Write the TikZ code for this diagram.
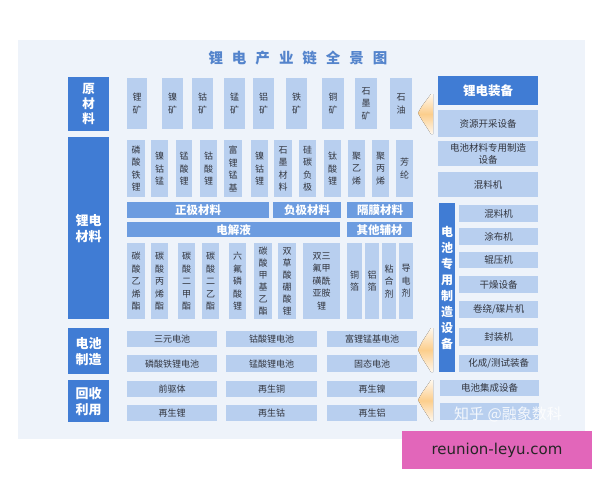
\documentclass[tikz,border=0pt]{standalone}
\usepackage{fontspec}
\setmainfont{Noto Sans CJK SC}
\newfontfamily\latinfont{DejaVu Sans}
\definecolor{panelbg}{RGB}{238,243,250}
\definecolor{darkblue}{RGB}{64,124,212}
\definecolor{bandblue}{RGB}{108,156,224}
\definecolor{lightbox}{RGB}{184,207,239}
\definecolor{txtc}{RGB}{50,53,62}
\definecolor{titlec}{RGB}{84,132,204}
\definecolor{arrowc}{RGB}{252,206,140}
\definecolor{pinkc}{RGB}{226,102,186}
\newcommand\bx[7]{\node[#1, anchor=north west, minimum width={#5-#3}, minimum height={#6-#4}] (#2) at (#3,#4) {#7};}
\begin{document}
\begin{tikzpicture}[x=1pt,y=-1pt,
  lb/.style={fill=lightbox, inner sep=0pt, align=center, text=txtc, font=\fontsize{9}{12.5}\selectfont},
  lbh/.style={lb, font=\fontsize{9}{11}\selectfont},
  cat/.style={fill=darkblue, inner sep=0pt, align=center, text=white, font=\bfseries\fontsize{13}{16}\selectfont},
  band/.style={fill=bandblue, inner sep=0pt, text=white, font=\bfseries\fontsize{11.5}{12}\selectfont},
  deco/.style={top color=arrowc!15!white, bottom color=arrowc!15!white, middle color=arrowc}]
\useasboundingbox (0,0) rectangle (600,480);
\fill[white] (0,0) rectangle (600,480);
\fill[panelbg] (18,40) rectangle (585,439);
% title
\node[text=titlec, font=\bfseries\fontsize{14.5}{14.5}\selectfont] (title) at (298,58)
  {锂\hspace{9pt}电\hspace{9pt}产\hspace{9pt}业\hspace{9pt}链\hspace{9pt}全\hspace{9pt}景\hspace{9pt}图};
% categories
\bx{cat, font=\bfseries\fontsize{12.5}{15}\selectfont}{c1}{68}{77}{109}{131}{原\\材\\料}
\bx{cat}{c2}{68}{137}{109}{319}{锂电\\材料}
\bx{cat}{c3}{68}{328}{109}{374}{电池\\制造}
\bx{cat}{c4}{68}{380}{109}{422}{回收\\利用}
% raw materials
\bx{lb}{r1}{127}{78}{147}{129}{锂\\矿}
\bx{lb}{r2}{162}{78}{183}{129}{镍\\矿}
\bx{lb}{r3}{192}{78}{213}{129}{钴\\矿}
\bx{lb}{r4}{224}{78}{245}{129}{锰\\矿}
\bx{lb}{r5}{253}{78}{274}{129}{铝\\矿}
\bx{lb}{r6}{286}{78}{307}{129}{铁\\矿}
\bx{lb}{r7}{322}{78}{344}{129}{铜\\矿}
\bx{lb}{r8}{355}{78}{377}{129}{石\\墨\\矿}
\bx{lb}{r9}{390}{78}{412}{129}{石\\油}
% materials row 1
\bx{lb}{m1}{127}{140}{145}{197}{磷\\酸\\铁\\锂}
\bx{lb}{m2}{151}{140}{168}{197}{镍\\钴\\锰}
\bx{lb}{m3}{176}{140}{192}{197}{锰\\酸\\锂}
\bx{lb}{m4}{200}{140}{217}{197}{钴\\酸\\锂}
\bx{lb}{m5}{224}{140}{242}{197}{富\\锂\\锰\\基}
\bx{lb}{m6}{251}{140}{268}{197}{镍\\钴\\锂}
\bx{lb}{m7}{274}{140}{292}{197}{石\\墨\\材\\料}
\bx{lb}{m8}{299}{140}{316}{197}{硅\\碳\\负\\极}
\bx{lb}{m9}{324}{140}{341}{197}{钛\\酸\\锂}
\bx{lb}{m10}{348}{140}{365}{197}{聚\\乙\\烯}
\bx{lb}{m11}{372}{140}{389}{197}{聚\\丙\\烯}
\bx{lb}{m12}{396}{140}{413}{197}{芳\\纶}
% bands
\bx{band}{b1}{127}{202}{269}{218}{正极材料}
\bx{band}{b2}{273}{202}{341}{218}{负极材料}
\bx{band}{b3}{347}{202}{413}{218}{隔膜材料}
\bx{band}{b4}{127}{222}{340}{237}{电解液}
\bx{band}{b5}{347}{222}{412}{237}{其他辅材}
% materials row 3
\bx{lb}{e1}{127}{243}{145}{319}{碳\\酸\\乙\\烯\\酯}
\bx{lb}{e2}{151}{243}{168}{319}{碳\\酸\\丙\\烯\\酯}
\bx{lb}{e3}{178}{243}{195}{319}{碳\\酸\\二\\甲\\酯}
\bx{lb}{e4}{202}{243}{219}{319}{碳\\酸\\二\\乙\\酯}
\bx{lb}{e5}{229}{243}{246}{319}{六\\氟\\磷\\酸\\锂}
\bx{lb, font=\fontsize{9}{12}\selectfont}{e6}{254}{243}{272}{319}{碳\\酸\\甲\\基\\乙\\酯}
\bx{lb, font=\fontsize{9}{12}\selectfont}{e7}{278}{243}{296}{319}{双\\草\\酸\\硼\\酸\\锂}
\bx{lb}{e8}{303}{243}{340}{319}{双三\\氟甲\\磺酰\\亚胺\\锂}
\bx{lb}{e9}{347}{243}{362}{319}{铜\\箔}
\bx{lb}{e10}{365}{243}{379}{319}{铝\\箔}
\bx{lb}{e11}{382}{243}{396}{319}{粘\\合\\剂}
\bx{lb}{e12}{399}{243}{413}{319}{导\\电\\剂}
% battery manufacturing
\bx{lbh}{p1}{127}{331}{217}{347}{三元电池}
\bx{lbh}{p2}{226}{331}{317}{347}{钴酸锂电池}
\bx{lbh}{p3}{327}{331}{417}{347}{富锂锰基电池}
\bx{lbh}{p4}{127}{355}{217}{372}{磷酸铁锂电池}
\bx{lbh}{p5}{226}{355}{317}{372}{锰酸锂电池}
\bx{lbh}{p6}{327}{355}{417}{372}{固态电池}
% recycling
\bx{lbh}{q1}{127}{381}{217}{397}{前驱体}
\bx{lbh}{q2}{226}{381}{317}{397}{再生铜}
\bx{lbh}{q3}{327}{381}{417}{397}{再生镍}
\bx{lbh}{q4}{127}{405}{217}{421}{再生锂}
\bx{lbh}{q5}{226}{405}{317}{421}{再生钴}
\bx{lbh}{q6}{327}{405}{417}{421}{再生铝}
% equipment column
\bx{cat, font=\bfseries\fontsize{12.5}{14}\selectfont}{k0}{438}{76}{538}{105}{锂电装备}
\bx{lbh, font=\fontsize{9.5}{11}\selectfont}{k1}{438}{110}{538}{137}{资源开采设备}
\bx{lbh, font=\fontsize{9.5}{11.5}\selectfont}{k2}{438}{141}{538}{166}{电池材料专用制造\\设备}
\bx{lbh, font=\fontsize{9.5}{11}\selectfont}{k3}{438}{172}{538}{197}{混料机}
\bx{cat, font=\bfseries\fontsize{12}{16}\selectfont}{kv}{439}{203}{455}{372}{电\\池\\专\\用\\制\\造\\设\\备}
\bx{lbh, font=\fontsize{9.5}{11}\selectfont}{s1}{459}{205}{538}{222}{混料机}
\bx{lbh, font=\fontsize{9.5}{11}\selectfont}{s2}{459}{228}{538}{245}{涂布机}
\bx{lbh, font=\fontsize{9.5}{11}\selectfont}{s3}{459}{252}{538}{268}{辊压机}
\bx{lbh, font=\fontsize{9.5}{11}\selectfont}{s4}{459}{276}{538}{293}{干燥设备}
\bx{lbh, font=\fontsize{9.5}{11}\selectfont}{s5}{459}{301}{538}{318}{卷绕/碟片机}
\bx{lbh, font=\fontsize{9.5}{11}\selectfont}{s6}{459}{328}{538}{346}{封装机}
\bx{lbh, font=\fontsize{9.5}{11}\selectfont}{s7}{459}{355}{538}{372}{化成/测试装备}
\bx{lbh, font=\fontsize{9.5}{11}\selectfont}{k4}{440}{380}{539}{396}{电池集成设备}
\bx{lbh}{k5}{440}{403}{539}{420}{}
% decorative arrows
\fill[deco] (431,94) -- (422,106) -- (418,113) -- (422,120) -- (431,134) -- (433,134) -- (433,94) -- cycle;
\fill[deco] (431,328) -- (422,342) -- (418,350) -- (422,358) -- (431,372) -- (433,372) -- (433,328) -- cycle;
\fill[deco] (431,380) -- (422,393) -- (418,400) -- (422,407) -- (431,421) -- (433,421) -- (433,380) -- cycle;
% watermark
\node[text=white, opacity=0.85, font=\fontsize{15}{15}\selectfont] (wm) at (508,414) {知乎 @融象数科};
% pink label
\fill[pinkc] (402,431) rectangle (592,469);
\node[text=black!85, font=\latinfont\fontsize{15}{15}\selectfont] (site) at (497,450) {reunion-leyu.com};
\end{tikzpicture}
\end{document}
